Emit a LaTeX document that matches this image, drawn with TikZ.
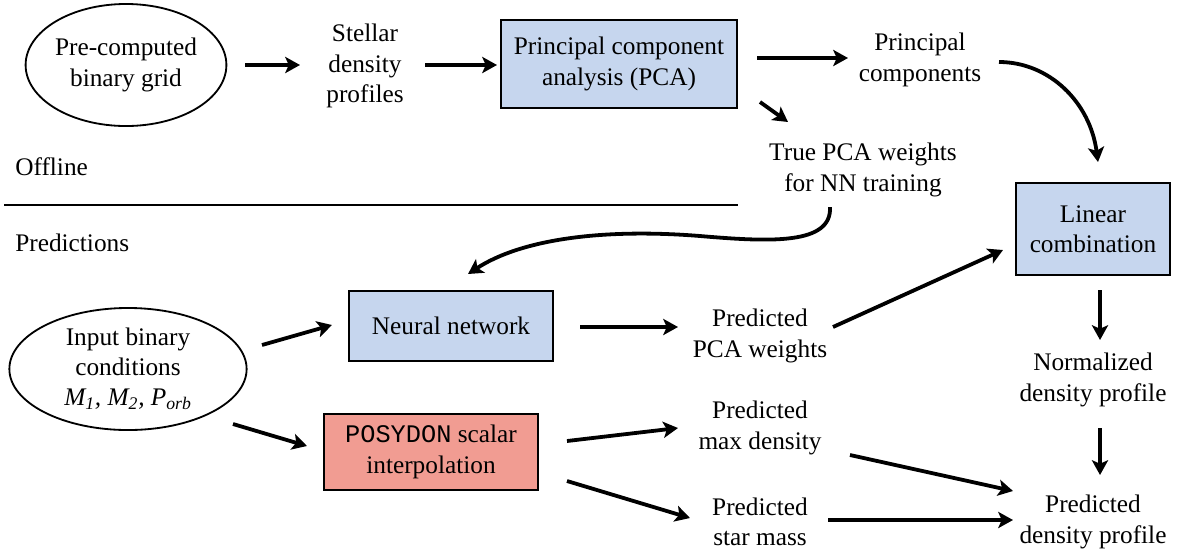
\documentclass[tikz,border=0pt]{standalone}
\usepackage{fontspec}
\setmainfont{Liberation Serif}
\newfontfamily\posMono{Liberation Mono}
\usetikzlibrary{arrows.meta,shapes.geometric,calc}
\definecolor{pcaBlue}{RGB}{198,214,238}
\definecolor{posRed}{RGB}{241,156,146}

\begin{document}
\begin{tikzpicture}[
    x=0.025cm, y=-0.025cm,
    flowTxt/.style={align=center,inner sep=0pt,font=\fontsize{18}{21.5}\selectfont},
    flowBox/.style={flowTxt,rectangle,draw=black,line width=1.4pt,fill=pcaBlue},
    flowEl/.style={flowTxt,ellipse,draw=black,line width=1.3pt},
    flowArr/.style={-{Stealth[length=10.5pt,width=11.5pt,inset=2.5pt]},line width=2.7pt},
]
\useasboundingbox (0,0) rectangle (1188,555);
% Offline part
\node[flowEl,minimum width=4.7cm,minimum height=3.05cm] (pre) at (126,65) {Pre-computed\\binary grid};
\node[flowTxt] (stel) at (365,66) {Stellar\\density\\profiles};
\node[flowBox,minimum width=5.9cm,minimum height=2.2cm] (pca) at (619,64) {Principal component\\analysis (PCA)};
\node[flowTxt] (pc) at (920,60) {Principal\\components};
\node[flowTxt] (tpw) at (863,170) {True PCA weights\\for NN training};
\node[flowTxt,anchor=west] (off) at (15,167) {Offline};
\node[flowTxt,anchor=west] (pred) at (15,243) {Predictions};
\coordinate (sepL) at (4,205);
\coordinate (sepR) at (738,205);
\draw[line width=1.3pt] (sepL) -- (sepR);
\node[flowBox,minimum width=3.83cm,minimum height=2.3cm] (lin) at (1093,229) {Linear\\combination};
% Predictions part
\node[flowBox,minimum width=5.1cm,minimum height=1.73cm] (nn) at (451,326) {Neural network};
\node[flowEl,minimum width=5.93cm,minimum height=3.05cm] (inp) at (128,369) {Input binary\\conditions\\\textit{M\textsubscript{1}, M\textsubscript{2}, P\textsubscript{orb}}};
\node[flowBox,fill=posRed,minimum width=5.33cm,minimum height=1.9cm] (pos) at (431,452) {{\posMono POSYDON} scalar\\interpolation};
\node[flowTxt] (ppw) at (760,336) {Predicted\\PCA weights};
\node[flowTxt] (pmd) at (760,428) {Predicted\\max density};
\node[flowTxt] (psm) at (760,522) {Predicted\\star mass};
\node[flowTxt] (ndp) at (1093,380) {Normalized\\density profile};
\node[flowTxt] (pdp) at (1093,522) {Predicted\\density profile};
% Arrows
\draw[flowArr] ($(pre)+(119,0)$) -- ($(stel)+(-65,-1)$);
\draw[flowArr] ($(stel)+(60,-1)$) -- ($(pca)+(-122,1)$);
\draw[flowArr] ($(pca)+(138,-6)$) -- ($(pc)+(-72,-2)$);
\draw[flowArr] ($(pca)+(141,38)$) -- ($(tpw)+(-75,-48)$);
\draw[flowArr] ($(pc)+(79,2)$) .. controls +(50,0) and +(-8,-60) .. ($(lin)+(5,-67)$);
\draw[flowArr] ($(tpw)+(-33,37)$) .. controls +(2,38) and +(70,6) .. ($(tpw)+(-163,66)$)
    .. controls +(-100,-8) and +(52,-34) .. ($(nn)+(17,-52)$);
\draw[flowArr] ($(inp)+(134,-24)$) -- ($(nn)+(-119,-1)$);
\draw[flowArr] ($(nn)+(129,1)$) -- ($(ppw)+(-82,-9)$);
\draw[flowArr] ($(ppw)+(73,-9)$) -- ($(lin)+(-90,21)$);
\draw[flowArr] ($(lin)+(7,61)$) -- ($(ndp)+(7,-40)$);
\draw[flowArr] ($(ndp)+(7,48)$) -- ($(pdp)+(7,-47)$);
\draw[flowArr] ($(inp)+(105,55)$) -- ($(pos)+(-124,-6)$);
\draw[flowArr] ($(pos)+(136,-11)$) -- ($(pmd)+(-82,0)$);
\draw[flowArr] ($(pos)+(136,29)$) -- ($(psm)+(-70,-4)$);
\draw[flowArr] ($(pmd)+(90,27)$) -- ($(pdp)+(-80,-31)$);
\draw[flowArr] ($(psm)+(68,-2)$) -- ($(pdp)+(-80,-2)$);
\end{tikzpicture}
\end{document}
